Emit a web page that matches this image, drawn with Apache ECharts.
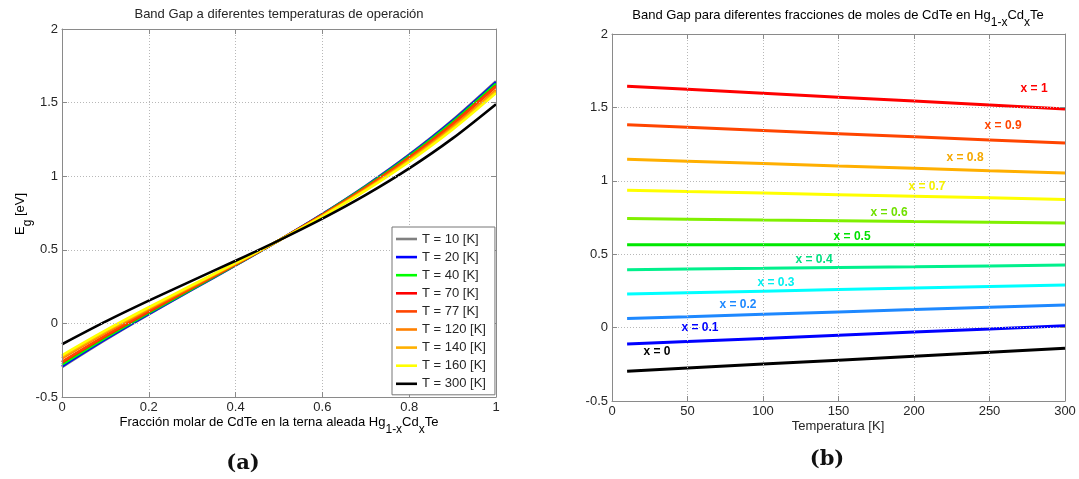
<!DOCTYPE html>
<html>
<head>
<meta charset="utf-8">
<script src="https://cdn.jsdelivr.net/npm/echarts@6/dist/echarts.min.js"></script>
<style>
  html, body { margin: 0; padding: 0; background: #fff; }
  #chart { width: 1079px; height: 479px; }
</style>
</head>
<body>
<div id="chart"></div>
<script>
// ---- Panel (a): band gap vs CdTe mole fraction, one curve per temperature ----
const molarFraction = [0, 0.1, 0.2, 0.3, 0.4, 0.5, 0.6, 0.7, 0.8, 0.9, 1];
const temperatureNames = ['T = 10 [K]', 'T = 20 [K]', 'T = 40 [K]', 'T = 70 [K]', 'T = 77 [K]',
                          'T = 120 [K]', 'T = 140 [K]', 'T = 160 [K]', 'T = 300 [K]'];
const egT10  = [-0.2967, -0.1120, 0.0615, 0.2287, 0.3947, 0.5645, 0.7430, 0.9354, 1.1464, 1.3811, 1.6447];
const egT20  = [-0.2913, -0.1077, 0.0647, 0.2309, 0.3957, 0.5645, 0.7420, 0.9332, 1.1432, 1.3768, 1.6393];
const egT40  = [-0.2806, -0.0992, 0.0711, 0.2352, 0.3979, 0.5645, 0.7398, 0.9289, 1.1368, 1.3683, 1.6286];
const egT70  = [-0.2645, -0.0863, 0.0808, 0.2416, 0.4011, 0.5645, 0.7366, 0.9225, 1.1271, 1.3554, 1.6125];
const egT77  = [-0.2608, -0.0833, 0.0830, 0.2431, 0.4018, 0.5645, 0.7359, 0.9210, 1.1249, 1.3524, 1.6088];
const egT120 = [-0.2378, -0.0649, 0.0968, 0.2523, 0.4064, 0.5645, 0.7313, 0.9118, 1.1111, 1.3340, 1.5858];
const egT140 = [-0.2271, -0.0564, 0.1032, 0.2566, 0.4086, 0.5645, 0.7291, 0.9075, 1.1047, 1.3255, 1.5751];
const egT160 = [-0.2164, -0.0478, 0.1097, 0.2608, 0.4107, 0.5645, 0.7270, 0.9033, 1.0982, 1.3169, 1.5644];
const egT300 = [-0.1415,  0.0121, 0.1546, 0.2908, 0.4257, 0.5645, 0.7120, 0.8733, 1.0533, 1.2570, 1.4895];
const temperatureColors = ['#808080', '#0000ff', '#00ff00', '#ff0000', '#ff4500',
                           '#ff8000', '#ffb000', '#ffff00', '#000000'];

// ---- Panel (b): band gap vs temperature, one line per mole fraction ----
const temperatureK = [10, 50, 100, 150, 200, 250, 300];
const fractionNames = ['x = 0', 'x = 0.1', 'x = 0.2', 'x = 0.3', 'x = 0.4', 'x = 0.5',
                       'x = 0.6', 'x = 0.7', 'x = 0.8', 'x = 0.9', 'x = 1'];
const egX00 = [-0.2967, -0.2753, -0.2485, -0.2218, -0.1950, -0.1683, -0.1415];
const egX01 = [-0.1120, -0.0949, -0.0735, -0.0521, -0.0307, -0.0093,  0.0121];
const egX02 = [ 0.0615,  0.0743,  0.0904,  0.1065,  0.1225,  0.1386,  0.1546];
const egX03 = [ 0.2287,  0.2373,  0.2480,  0.2587,  0.2694,  0.2801,  0.2908];
const egX04 = [ 0.3947,  0.3990,  0.4043,  0.4097,  0.4150,  0.4204,  0.4257];
const egX05 = [ 0.5645,  0.5645,  0.5645,  0.5645,  0.5645,  0.5645,  0.5645];
const egX06 = [ 0.7430,  0.7388,  0.7334,  0.7281,  0.7227,  0.7174,  0.7120];
const egX07 = [ 0.9354,  0.9268,  0.9161,  0.9054,  0.8947,  0.8840,  0.8733];
const egX08 = [ 1.1464,  1.1336,  1.1175,  1.1014,  1.0854,  1.0693,  1.0533];
const egX09 = [ 1.3811,  1.3640,  1.3426,  1.3212,  1.2998,  1.2784,  1.2570];
const egX10 = [ 1.6447,  1.6233,  1.5965,  1.5698,  1.5430,  1.5163,  1.4895];
const fractionColors = ['#000000', '#0000ff', '#1e88ff', '#00ffff', '#00f08c', '#00e800',
                        '#80f000', '#ffff00', '#ffaf00', '#ff4500', '#ff0000'];
// where each "x = ..." tag sits, in [T, Eg] axis units
const fractionLabelAt = [[29.8, -0.166], [58.3, -0.002], [83.4, 0.155], [108.6, 0.304],
                         [133.8, 0.461], [159, 0.618], [183.5, 0.782], [208.6, 0.960],
                         [233.8, 1.158], [259, 1.376], [279.5, 1.625]];
const fractionLabelColors = ['#000000', '#0000ff', '#1e88ff', '#00f0f0', '#00e080', '#00e000',
                             '#70e000', '#f5f000', '#f5a800', '#ff4500', '#ff0000'];

const egByTemperature = [egT10, egT20, egT40, egT70, egT77, egT120, egT140, egT160, egT300];
const egByFraction = [egX00, egX01, egX02, egX03, egX04, egX05, egX06, egX07, egX08, egX09, egX10];

const FONT = "'Liberation Sans', Arial, sans-serif";
const AXIS_GRAY = '#8a8a8a';
const TEXT = '#262626';

function mainAxis(gridIndex, pos, min, max, interval, showLabels) {
  return {
    type: 'value', gridIndex, position: pos, min, max, interval,
    axisLine: { show: true, onZero: false, lineStyle: { color: AXIS_GRAY, width: 1 } },
    axisTick: { show: true, inside: true, length: 5, lineStyle: { color: AXIS_GRAY } },
    axisLabel: { show: showLabels, color: TEXT, fontFamily: FONT, fontSize: 13, margin: 4 },
    splitLine: { show: showLabels, lineStyle: { color: '#b8b8b8', type: [1, 2], width: 1 } },
    z: 5
  };
}

const subRich = (size) => ({
  n: { fontFamily: FONT, fontSize: size, lineHeight: 28, color: TEXT },
  s: { fontFamily: FONT, fontSize: size - 1, lineHeight: 12, verticalAlign: 'bottom', color: TEXT }
});

const series = [];
egByTemperature.forEach((vals, i) => {
  series.push({
    name: temperatureNames[i], type: 'line', xAxisIndex: 0, yAxisIndex: 0,
    data: molarFraction.map((x, k) => [x, vals[k]]),
    symbol: 'none', smooth: 0.3,
    lineStyle: { color: temperatureColors[i], width: 2.6 },
    itemStyle: { color: temperatureColors[i] },
    emphasis: { disabled: true }, z: 3
  });
});
egByFraction.forEach((vals, i) => {
  series.push({
    name: fractionNames[i], type: 'line', xAxisIndex: 1, yAxisIndex: 1,
    data: temperatureK.map((t, k) => [t, vals[k]]),
    symbol: 'none',
    lineStyle: { color: fractionColors[i], width: 3 },
    itemStyle: { color: fractionColors[i] },
    emphasis: { disabled: true }, z: 3,
    markPoint: {
      symbol: 'circle', symbolSize: 1, silent: true,
      itemStyle: { color: 'rgba(0,0,0,0)' },
      label: {
        show: true, position: 'inside', formatter: fractionNames[i],
        color: fractionLabelColors[i], fontFamily: FONT, fontWeight: 'bold', fontSize: 12
      },
      data: [{ coord: fractionLabelAt[i] }]
    }
  });
});

const chart = echarts.init(document.getElementById('chart'), null, { renderer: 'canvas' });
chart.setOption({
  animation: false,
  backgroundColor: '#ffffff',
  grid: [
    { left: 62, top: 29, width: 434, height: 368, show: false },
    { left: 612, top: 34, width: 453, height: 367, show: false }
  ],
  xAxis: [
    mainAxis(0, 'bottom', 0, 1, 0.2, true),
    mainAxis(1, 'bottom', 0, 300, 50, true),
    mainAxis(0, 'top', 0, 1, 0.2, false),
    mainAxis(1, 'top', 0, 300, 50, false)
  ],
  yAxis: [
    mainAxis(0, 'left', -0.5, 2, 0.5, true),
    mainAxis(1, 'left', -0.5, 2, 0.5, true),
    mainAxis(0, 'right', -0.5, 2, 0.5, false),
    mainAxis(1, 'right', -0.5, 2, 0.5, false)
  ],
  legend: {
    data: temperatureNames, orient: 'vertical', left: 392, top: 227,
    icon: 'rect', itemWidth: 21, itemHeight: 2.6, itemGap: 4.1,
    padding: [5, 9, 4, 4],
    backgroundColor: '#ffffff', borderColor: '#777', borderWidth: 1, borderRadius: 0,
    textStyle: { fontFamily: FONT, fontSize: 13, lineHeight: 14, color: TEXT },
    selectedMode: false, z: 10
  },
  series,
  graphic: [
    { type: 'text', x: 279, y: 14, style: {
        text: 'Band Gap a diferentes temperaturas de operación',
        fontFamily: FONT, fontSize: 13, fill: TEXT, align: 'center', verticalAlign: 'middle' } },
    { type: 'text', x: 838, y: 15, style: {
        text: '{n|Band Gap para diferentes fracciones de moles de CdTe en Hg}{s|1-x}{n|Cd}{s|x}{n|Te}',
        rich: subRich(13), align: 'center', verticalAlign: 'middle' } },
    { type: 'text', x: 279, y: 422, style: {
        text: '{n|Fracción molar de CdTe en la terna aleada Hg}{s|1-x}{n|Cd}{s|x}{n|Te}',
        rich: subRich(13), align: 'center', verticalAlign: 'middle' } },
    { type: 'text', x: 838, y: 426, style: {
        text: 'Temperatura [K]', fontFamily: FONT, fontSize: 13, fill: TEXT,
        align: 'center', verticalAlign: 'middle' } },
    { type: 'text', x: 20, y: 214, rotation: Math.PI / 2, style: {
        text: '{n|E}{s|g}{n| [eV]}', rich: subRich(13), align: 'center', verticalAlign: 'middle' } },
    { type: 'text', x: 243, y: 464, style: {
        text: '(a)', fontFamily: "'DejaVu Serif', serif", fontWeight: 'bold', fontSize: 21,
        fill: '#111', align: 'center', verticalAlign: 'middle' } },
    { type: 'text', x: 827, y: 460, style: {
        text: '(b)', fontFamily: "'DejaVu Serif', serif", fontWeight: 'bold', fontSize: 21,
        fill: '#111', align: 'center', verticalAlign: 'middle' } }
  ]
});
</script>
</body>
</html>
